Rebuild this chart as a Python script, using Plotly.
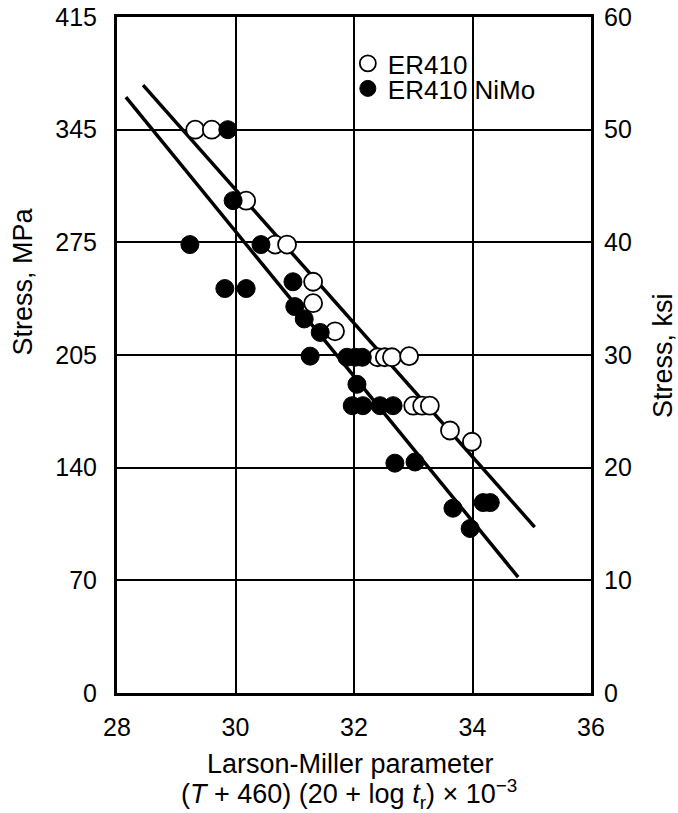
import plotly.graph_objects as go

# Larson-Miller parameter (x 10^-3) and stress (ksi)
er410_lmp = [29.32, 29.60, 30.18, 30.67, 30.87, 31.31, 31.31, 31.68, 32.40, 32.52, 32.64,
             32.93, 33.00, 33.15, 33.28, 33.62, 33.99]
er410_ksi = [50.0, 50.0, 43.7, 39.8, 39.8, 36.5, 34.6, 32.1, 29.8, 29.8, 29.8,
             29.9, 25.5, 25.5, 25.5, 23.3, 22.3]

nimo_lmp = [29.87, 29.96, 29.23, 30.43, 29.82, 30.18, 30.97, 31.00, 31.16, 31.43, 31.26,
            31.88, 32.02, 32.14, 32.05, 31.97, 32.15, 32.44, 32.66, 32.69, 33.03, 33.67,
            34.18, 34.30, 33.96]
nimo_ksi = [50.0, 43.7, 39.8, 39.8, 35.9, 35.9, 36.5, 34.3, 33.2, 32.0, 29.9,
            29.8, 29.8, 29.8, 27.4, 25.5, 25.5, 25.5, 25.5, 20.4, 20.5, 16.4,
            16.9, 16.9, 14.6]

# Fitted trend lines (end points)
fit_er410_lmp = [28.44, 35.05]
fit_er410_ksi = [53.95, 14.73]
fit_nimo_lmp = [28.15, 34.77]
fit_nimo_ksi = [52.88, 10.29]

x_ticks = [28, 30, 32, 34, 36]
ksi_ticks = [0, 10, 20, 30, 40, 50, 60]
mpa_labels = ["0", "70", "140", "205", "275", "345", "415"]

FONT = "Liberation Sans, Arial, sans-serif"
FS_TICK = 25
FS_TITLE = 27

fig = go.Figure()
fig.add_trace(go.Scatter(x=fit_er410_lmp, y=fit_er410_ksi, mode="lines",
                         line=dict(color="black", width=3.5), showlegend=False, hoverinfo="skip"))
fig.add_trace(go.Scatter(x=fit_nimo_lmp, y=fit_nimo_ksi, mode="lines",
                         line=dict(color="black", width=3.5), showlegend=False, hoverinfo="skip"))
fig.add_trace(go.Scatter(x=er410_lmp, y=er410_ksi, mode="markers", name="ER410",
                         legend="legend",
                         marker=dict(symbol="circle", size=18, color="white",
                                     line=dict(color="black", width=1.8))))
fig.add_trace(go.Scatter(x=nimo_lmp, y=nimo_ksi, mode="markers", name="ER410 NiMo",
                         legend="legend2",
                         marker=dict(symbol="circle", size=18, color="black",
                                     line=dict(color="black", width=1))))
# invisible trace to activate right axis
fig.add_trace(go.Scatter(x=[None], y=[None], yaxis="y2", showlegend=False, hoverinfo="skip"))

leg_common = dict(x=0.487, xanchor="left", yanchor="top", bgcolor="rgba(0,0,0,0)",
                  borderwidth=0, font=dict(family=FONT, size=FS_TITLE - 1, color="black"),
                  itemsizing="trace")

# white backing box behind the legend (hides grid lines there)
fig.add_shape(type="rect", xref="paper", yref="paper", x0=0.487, x1=0.91,
              y0=0.852, y1=0.966, fillcolor="white", line=dict(width=0), layer="between")

fig.update_layout(
    width=678, height=813,
    margin=dict(l=117, r=87, t=17, b=120, autoexpand=False),
    paper_bgcolor="white", plot_bgcolor="white",
    font=dict(family=FONT, size=FS_TICK, color="black"),
    showlegend=True,
    legend=dict(y=0.966, **leg_common),
    legend2=dict(y=0.929, **leg_common),
    xaxis=dict(range=[28, 36], tickvals=x_ticks, ticks="", showgrid=True,
               gridcolor="black", gridwidth=1.8, zeroline=False, automargin=False,
               showline=True, linecolor="black", linewidth=3, mirror=True,
               ticklabelstandoff=10, ticklabeloverflow="allow", tickfont=dict(size=FS_TICK)),
    yaxis=dict(range=[0, 60], tickvals=ksi_ticks, ticktext=mpa_labels, ticks="",
               showgrid=True, gridcolor="black", gridwidth=1.8, zeroline=False,
               automargin=False,
               showline=True, linecolor="black", linewidth=3, mirror=True,
               ticklabelstandoff=12, ticklabeloverflow="allow", tickfont=dict(size=FS_TICK)),
    yaxis2=dict(range=[0, 60], tickvals=ksi_ticks, overlaying="y", side="right",
                ticks="", showgrid=False, zeroline=False, showline=False, automargin=False,
                ticklabelstandoff=12, ticklabeloverflow="allow", tickfont=dict(size=FS_TICK)),
)

ann = [
    dict(text="Stress, MPa", x=-0.198, y=0.609, textangle=-90),
    dict(text="Stress, ksi", x=1.152, y=0.4985, textangle=-90),
    dict(text="Larson-Miller parameter", x=0.4916, y=-0.105, textangle=0),
    dict(text="(<i>T</i> + 460) (20 + log <i>t</i><sub>r</sub>) × 10<sup>−3</sup>",
         x=0.49, y=-0.150, textangle=0),
]
for a in ann:
    fig.add_annotation(xref="paper", yref="paper", showarrow=False,
                       xanchor="center", yanchor="middle",
                       font=dict(family=FONT, size=FS_TITLE, color="black"), **a)

fig.write_html("out.html", config={"displayModeBar": False},
               post_script="document.body.style.margin='0px';")
